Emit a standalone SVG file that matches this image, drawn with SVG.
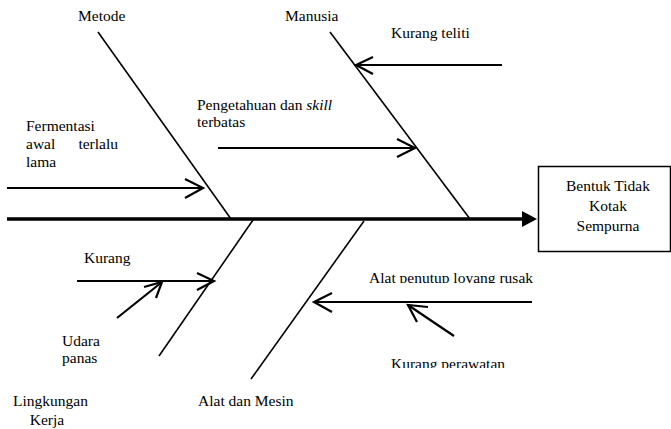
<svg xmlns="http://www.w3.org/2000/svg" width="671" height="429" viewBox="0 0 671 429">
<style>
text{font-family:'Liberation Serif','DejaVu Serif',serif;font-size:15.5px;fill:#000}
.bone{stroke:#000;stroke-width:1.6;fill:none}
.arr{stroke:#000;stroke-width:2.2;fill:none}
.spine{stroke:#000;stroke-width:3.5;fill:none}
</style>
<defs>
<clipPath id="c1"><rect x="190" y="114" width="120" height="14"/></clipPath>
<clipPath id="c2"><rect x="360" y="266" width="190" height="17"/></clipPath>
<clipPath id="c3"><rect x="380" y="352" width="140" height="16"/></clipPath>
</defs>
<rect width="671" height="429" fill="#fff"/>
<g id="connectors">
<line class="spine" x1="7" y1="219" x2="523" y2="219"/>
<polygon points="522,211 537,219 522,227" fill="#000"/>
<line class="bone" x1="98" y1="32" x2="231" y2="219"/>
<line class="bone" x1="330" y1="32" x2="470" y2="219"/>
<line class="bone" x1="253" y1="220" x2="159" y2="356"/>
<line class="bone" x1="364" y1="221" x2="251" y2="379"/>
<line class="arr" x1="7" y1="188" x2="203" y2="188"/>
<polyline class="arr" points="185,179 203,188 185,198"/>
<line class="arr" x1="218" y1="148" x2="415" y2="148"/>
<polyline class="arr" points="397,139 415,148 397,157"/>
<line class="arr" x1="502" y1="65" x2="356" y2="65"/>
<polyline class="arr" points="373,57 356,65 373,74"/>
<line class="arr" x1="77" y1="281" x2="214" y2="281"/>
<polyline class="arr" points="197,273 214,281 197,290"/>
<line class="arr" x1="117" y1="318" x2="162" y2="282"/>
<polyline class="arr" points="144,287 162,282 156,298"/>
<line class="arr" x1="532" y1="302" x2="314" y2="302"/>
<polyline class="arr" points="332,293 314,302 332,312"/>
<line class="arr" x1="454" y1="336" x2="408" y2="305"/>
<polyline class="arr" points="428,307 408,305 417,322"/>
</g>
<g id="effect">
<rect x="538.5" y="166.5" width="132" height="85" fill="#fff" stroke="#000" stroke-width="1.5"/>
<text x="608" y="191" text-anchor="middle">Bentuk Tidak</text>
<text x="608" y="211" text-anchor="middle">Kotak</text>
<text x="608" y="231" text-anchor="middle">Sempurna</text>
</g>
<g id="metode"><text x="78" y="21">Metode</text></g>
<g id="manusia"><text x="285" y="21">Manusia</text></g>
<g id="kurang-teliti"><text x="391" y="38">Kurang teliti</text></g>
<g id="pengetahuan">
<text x="197" y="110">Pengetahuan dan <tspan font-style="italic">skill</tspan></text>
<text x="197" y="127" clip-path="url(#c1)">terbatas</text>
</g>
<g id="fermentasi">
<text x="26" y="131">Fermentasi</text>
<text x="26" y="149">awal</text>
<text x="118" y="149" text-anchor="end">terlalu</text>
<text x="26" y="167">lama</text>
</g>
<g id="kurang"><text x="84" y="263">Kurang</text></g>
<g id="udara"><text x="62" y="346">Udara</text><text x="62" y="363">panas</text></g>
<g id="lingkungan"><text x="13" y="406">Lingkungan</text><text x="47" y="425" text-anchor="middle">Kerja</text></g>
<g id="alat-mesin"><text x="198" y="406">Alat dan Mesin</text></g>
<g id="alat-penutup"><text x="369" y="283" clip-path="url(#c2)">Alat penutup loyang rusak</text></g>
<g id="kurang-perawatan"><text x="391" y="369" clip-path="url(#c3)">Kurang perawatan</text></g>
</svg>
